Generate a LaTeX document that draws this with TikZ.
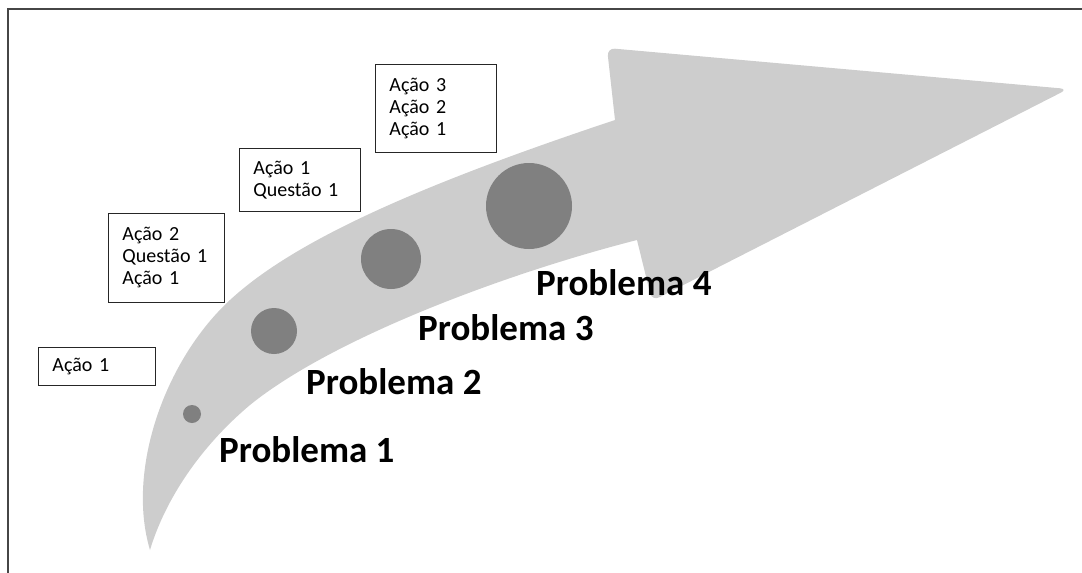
\documentclass[tikz,border=0pt]{standalone}
\usepackage{fontspec}
\setmainfont{Carlito}
\usepackage{xcolor}
\usetikzlibrary{positioning}
\definecolor{arrowgray}{RGB}{205,205,205}
\definecolor{dotgray}{RGB}{128,128,128}
\definecolor{framegray}{RGB}{70,70,70}

\tikzset{
  actbox/.style={draw=black!85, line width=0.9pt, anchor=north west, align=left,
    inner xsep=14pt, inner ysep=0pt, font=\fontsize{20}{22}\selectfont},
  probdot/.style={circle, fill=dotgray, inner sep=0pt},
  problabel/.style={anchor=base west, inner sep=0pt, font=\bfseries\fontsize{37}{40}\selectfont}
}

\begin{document}
\begin{tikzpicture}[x=1pt, y=-1pt]
	\useasboundingbox (0,0) rectangle (1082,573);
	% moldura
	\draw[framegray, line width=1.5pt] (8,573) -- (8,9) -- (1082,9);
	
	% seta curva
	\fill[arrowgray] (150,550) .. controls (126,470) and (165,360) .. (230,300)
		.. controls (295,240) and (420,185) .. (615,120)
		[rounded corners=8pt] -- (607,48) -- (1068,89) -- (652,301) [sharp corners] -- (637,240)
		.. controls (500,275) and (330,340) .. (250,405)
		.. controls (200,447) and (165,500) .. cycle;
	
	\node[probdot, minimum size=18pt] (dot1) at (192,414) {};
	\node[probdot, minimum size=46pt] (dot2) at (274,331) {};
	\node[probdot, minimum size=60pt] (dot3) at (391,259) {};
	\node[probdot, minimum size=86pt] (dot4) at (529,206) {};
	
	\node[problabel] (prob1) at (219,462) {Problema 1};
	\node[problabel] (prob2) at (306,394) {Problema 2};
	\node[problabel] (prob3) at (418,340) {Problema 3};
	\node[problabel] (prob4) at (536,295) {Problema 4};
	
	\node[actbox, text width=89pt, minimum height=38pt] (acts1) at (38,347) {Ação 1};
	\node[actbox, text width=88pt, minimum height=89pt] (acts2) at (108,213) {Ação 2\\Questão 1\\Ação 1};
	\node[actbox, text width=93pt, minimum height=63pt] (acts3) at (239,148) {Ação 1\\Questão 1};
	\node[actbox, text width=93pt, minimum height=88pt] (acts4) at (375,64) {Ação 3\\Ação 2\\Ação 1};
\end{tikzpicture}
\end{document}
